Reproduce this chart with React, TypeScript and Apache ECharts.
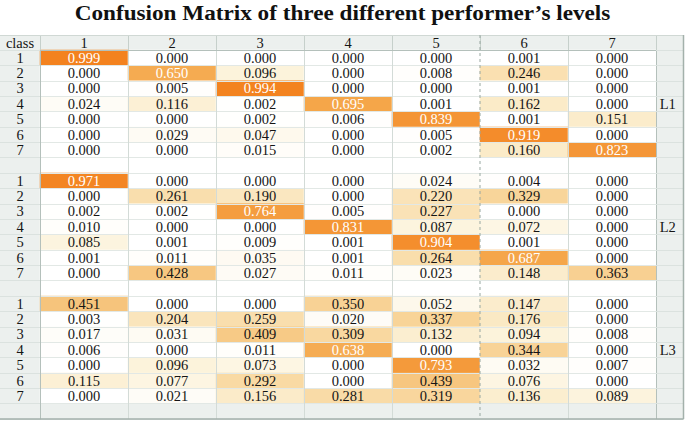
import React, { useEffect, useRef } from 'react';
import * as echarts from 'echarts';

const TITLE = 'Confusion Matrix of three different performer\u2019s levels';
const CLASSES = ['1', '2', '3', '4', '5', '6', '7'];
const LEVELS = ['L1', 'L2', 'L3'];

const L1 = [
  [0.999, 0.000, 0.000, 0.000, 0.000, 0.001, 0.000],
  [0.000, 0.650, 0.096, 0.000, 0.008, 0.246, 0.000],
  [0.000, 0.005, 0.994, 0.000, 0.000, 0.001, 0.000],
  [0.024, 0.116, 0.002, 0.695, 0.001, 0.162, 0.000],
  [0.000, 0.000, 0.002, 0.006, 0.839, 0.001, 0.151],
  [0.000, 0.029, 0.047, 0.000, 0.005, 0.919, 0.000],
  [0.000, 0.000, 0.015, 0.000, 0.002, 0.160, 0.823],
];
const L2 = [
  [0.971, 0.000, 0.000, 0.000, 0.024, 0.004, 0.000],
  [0.000, 0.261, 0.190, 0.000, 0.220, 0.329, 0.000],
  [0.002, 0.002, 0.764, 0.005, 0.227, 0.000, 0.000],
  [0.010, 0.000, 0.000, 0.831, 0.087, 0.072, 0.000],
  [0.085, 0.001, 0.009, 0.001, 0.904, 0.001, 0.000],
  [0.001, 0.011, 0.035, 0.001, 0.264, 0.687, 0.000],
  [0.000, 0.428, 0.027, 0.011, 0.023, 0.148, 0.363],
];
const L3 = [
  [0.451, 0.000, 0.000, 0.350, 0.052, 0.147, 0.000],
  [0.003, 0.204, 0.259, 0.020, 0.337, 0.176, 0.000],
  [0.017, 0.031, 0.409, 0.309, 0.132, 0.094, 0.008],
  [0.006, 0.000, 0.011, 0.638, 0.000, 0.344, 0.000],
  [0.000, 0.096, 0.073, 0.000, 0.793, 0.032, 0.007],
  [0.115, 0.077, 0.292, 0.000, 0.439, 0.076, 0.000],
  [0.000, 0.021, 0.156, 0.281, 0.319, 0.136, 0.089],
];
const BLOCKS = [L1, L2, L3];

// layout constants
const TABLE_TOP = 35;
const HEADER_H = 15;
const LEFT_W = 40;
const COL_W = 88;
const RIGHT_W = 27.5;
const ROW_H = 15.375;

const FONT = 'Liberation Serif';
const FS = 14.5;
const GREY = '#ecf0ee';
const LINE = '#d3dbd7';
const DARK_LINE = '#b4c0bb';

export default function App() {
  const ref = useRef<HTMLDivElement>(null);

  useEffect(() => {
    if (!ref.current) return;
    const chart = echarts.init(ref.current, null, { renderer: 'svg' });

    const yKeys: string[] = [];
    const yLabels: string[] = [];
    const rightLabels: string[] = [];
    BLOCKS.forEach((_, b) => {
      CLASSES.forEach((c, r) => {
        yKeys.push(`${LEVELS[b]}-${c}`);
        yLabels.push(c);
        rightLabels.push(r === 3 ? LEVELS[b] : '');
      });
      yKeys.push(`${LEVELS[b]}-gap`);
      yLabels.push('');
      rightLabels.push('');
    });

    const data: any[] = [];
    BLOCKS.forEach((m, b) => {
      m.forEach((row, r) => {
        row.forEach((v, c) => {
          data.push({
            value: [c, b * 8 + r, v],
            label: { color: v >= 0.5 ? '#ffffff' : '#151515' },
          });
        });
      });
    });

    const nRows = yKeys.length;
    const gridW = COL_W * CLASSES.length;
    const gridH = ROW_H * nRows;
    const gridTop = TABLE_TOP + HEADER_H;
    const tableRight = LEFT_W + gridW + RIGHT_W;

    const option: any = {
      animation: false,
      grid: { left: LEFT_W, top: gridTop, width: gridW, height: gridH, containLabel: false },
      visualMap: {
        show: false,
        type: 'continuous',
        min: 0,
        max: 1,
        seriesIndex: 0,
        inRange: {
          color: ['#ffffff', '#fcf2d9', '#fae6bd', '#f9d9a2', '#f7cb88', '#f6bd70', '#f5b05a', '#f5a548', '#f4993a', '#f48e2e', '#f3821f'],
        },
      },
      xAxis: {
        type: 'category',
        data: CLASSES,
        position: 'top',
        z: 3,
        axisLine: { show: true, lineStyle: { color: DARK_LINE, width: 1 } },
        axisTick: { show: true, length: HEADER_H, interval: 0, lineStyle: { color: '#c6d0cb' } },
        axisLabel: { margin: 7.5, verticalAlign: 'middle', fontFamily: FONT, fontSize: FS, color: '#151515' },
        splitLine: {
          show: true,
          interval: (i: number) => i !== 5,
          lineStyle: { color: LINE, width: 1 },
        },
      },
      yAxis: [
        {
          type: 'category',
          data: yKeys,
          inverse: true,
          z: 3,
          axisLine: { show: true, lineStyle: { color: DARK_LINE } },
          axisTick: { show: true, length: LEFT_W, interval: 0, lineStyle: { color: '#dbe2df' } },
          axisLabel: {
            interval: 0,
            margin: LEFT_W / 2,
            align: 'center',
            fontFamily: FONT,
            fontSize: FS,
            color: '#151515',
            formatter: (_v: string, i: number) => yLabels[i],
          },
          splitLine: { show: true, interval: 0, lineStyle: { color: '#e2e8e5' } },
        },
        {
          type: 'category',
          data: yKeys,
          inverse: true,
          position: 'right',
          z: 3,
          axisLine: { show: true, lineStyle: { color: DARK_LINE } },
          axisTick: { show: true, length: RIGHT_W, interval: 0, lineStyle: { color: '#dbe2df' } },
          axisLabel: {
            interval: 0,
            margin: RIGHT_W / 2 - 2,
            align: 'center',
            fontFamily: FONT,
            fontSize: FS,
            color: '#151515',
            formatter: (_v: string, i: number) => rightLabels[i],
          },
          splitLine: { show: false },
        },
      ],
      series: [
        {
          type: 'heatmap',
          xAxisIndex: 0,
          yAxisIndex: 0,
          data,
          label: {
            show: true,
            fontFamily: FONT,
            fontSize: FS,
            formatter: (p: any) => Number(p.value[2]).toFixed(3),
          },
          emphasis: { disabled: true },
          itemStyle: { borderWidth: 0 },
        },
      ],
      graphic: [
        { type: 'rect', z: -10, silent: true, shape: { x: 0, y: TABLE_TOP, width: tableRight, height: HEADER_H }, style: { fill: GREY } },
        { type: 'rect', z: -10, silent: true, shape: { x: 0, y: gridTop, width: LEFT_W, height: gridH }, style: { fill: GREY } },
        { type: 'rect', z: -10, silent: true, shape: { x: LEFT_W + gridW, y: gridTop, width: RIGHT_W, height: gridH }, style: { fill: GREY } },
        { type: 'rect', z: -10, silent: true, shape: { x: LEFT_W, y: gridTop + gridH - ROW_H, width: gridW, height: ROW_H }, style: { fill: GREY } },
        { type: 'line', z: 10, silent: true, shape: { x1: 0, y1: TABLE_TOP + 0.5, x2: tableRight, y2: TABLE_TOP + 0.5 }, style: { stroke: '#d0d8d4', lineWidth: 1 } },
        { type: 'line', z: 10, silent: true, shape: { x1: 0, y1: gridTop + gridH, x2: tableRight, y2: gridTop + gridH }, style: { stroke: '#a3b1ab', lineWidth: 1.5 } },
        { type: 'line', z: 10, silent: true, shape: { x1: tableRight, y1: TABLE_TOP, x2: tableRight, y2: gridTop + gridH }, style: { stroke: '#a3b1ab', lineWidth: 1.5 } },
        { type: 'line', z: 10, silent: true, shape: { x1: LEFT_W + COL_W * 5, y1: TABLE_TOP, x2: LEFT_W + COL_W * 5, y2: gridTop + gridH }, style: { stroke: '#98a7a1', lineWidth: 1, lineDash: [3, 3] } },
        { type: 'text', z: 10, silent: true, x: LEFT_W / 2, y: TABLE_TOP + HEADER_H / 2, style: { text: 'class', fontFamily: FONT, fontSize: FS, fill: '#151515', align: 'center', verticalAlign: 'middle' } },
        { type: 'text', z: 10, silent: true, x: 342.5, y: 14, scaleX: 1.16, style: { text: TITLE, fontFamily: FONT, fontWeight: 'bold', fontSize: 20, fill: '#111', align: 'center', verticalAlign: 'middle' } },
      ],
    };

    chart.setOption(option);
    return () => chart.dispose();
  }, []);

  return <div ref={ref} style={{ position: 'absolute', left: 0, top: 0, width: 685, height: 421 }} />;
}
